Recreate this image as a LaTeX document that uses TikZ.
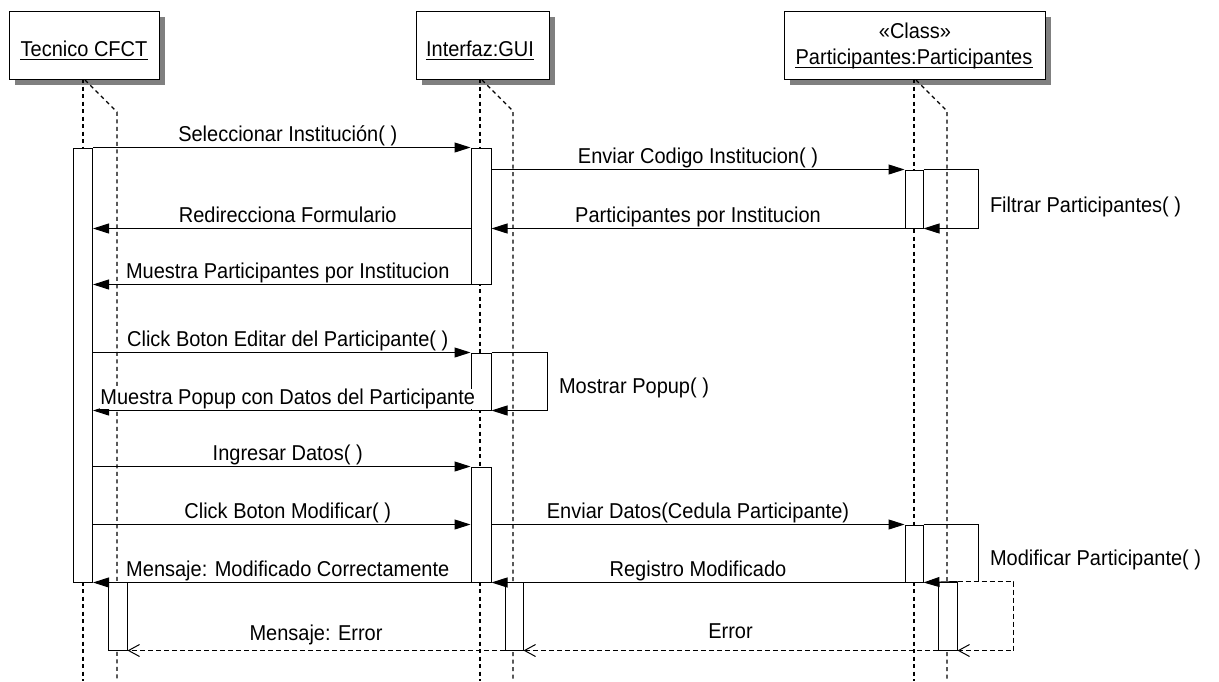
\documentclass[tikz,border=0pt]{standalone}
\usepackage{fontspec}
\setmainfont{Liberation Sans}[FakeStretch=0.93]
\usetikzlibrary{arrows.meta,shadows}
\begin{document}
\begin{tikzpicture}[x=1pt,y=-1pt,
  every node/.style={font=\fontsize{21.5}{25}\selectfont},
  objbox/.style={draw,line width=1pt,fill=white,rectangle,inner sep=0pt,
    general shadow={fill=black!50,shadow xshift=6pt,shadow yshift=-6pt}},
  objname/.style={anchor=base,inner sep=0pt},
  lifeline/.style={line width=1.2pt,dash pattern=on 4pt off 3.5pt},
  actbar/.style={draw,line width=1pt,fill=white,rectangle,inner sep=0pt},
  msg/.style={line width=1pt,-{Triangle[length=16pt,width=10pt]}},
  reply/.style={line width=1pt,dash pattern=on 5pt off 3pt,
    -{Straight Barb[length=11pt,width=12pt,line width=1pt]}},
  lbl/.style={fill=white,inner sep=0pt,anchor=base,yshift=6pt},
  lbll/.style={lbl,xshift=6pt},
  selflbl/.style={anchor=base west,inner sep=0pt},
]
\fill[white] (0,0) rectangle (1219,681);
\useasboundingbox (0,0) rectangle (1219,681);

% object boxes with drop shadow
\node[objbox,minimum width=150pt,minimum height=68pt] (tbox) at (84,45) {};
\node[objbox,minimum width=133pt,minimum height=68pt] (ibox) at (482.5,45) {};
\node[objbox,minimum width=261pt,minimum height=68pt] (pbox) at (914.5,45) {};

\node[objname] (tname) at (84,56) {Tecnico CFCT};
\node[objname] (iname) at (480,56) {Interfaz:GUI};
\node[objname] (pstereo) at (915,38) {«Class»};
\node[objname] (pname) at (914,64) {Participantes:Participantes};
\foreach \n in {tname,iname,pname}
  \draw[line width=1pt] ([yshift=-3.5pt]\n.base west) -- ([yshift=-3.5pt]\n.base east);

% lifelines
\draw[lifeline] (83,79) -- (83,681);
\draw[lifeline] (85,80) -- (117,112) -- (117,681);
\draw[lifeline] (480,79) -- (480,681);
\draw[lifeline] (482,80) -- (513,111) -- (513,681);
\draw[lifeline] (914,79) -- (914,681);
\draw[lifeline] (916,80) -- (947,111) -- (947,681);

% activation bars
\node[actbar,minimum width=19pt,minimum height=434pt] (tb1) at (83,365) {};
\node[actbar,minimum width=19pt,minimum height=68pt] (tb2) at (117.5,616) {};
\node[actbar,minimum width=20pt,minimum height=136pt] (ib1) at (481,216) {};
\node[actbar,minimum width=20pt,minimum height=57pt] (ib2) at (481,381.5) {};
\node[actbar,minimum width=20pt,minimum height=115pt] (ib3) at (481,524.5) {};
\node[actbar,minimum width=18pt,minimum height=68pt] (ib4) at (514,616) {};
\node[actbar,minimum width=18pt,minimum height=58pt] (pb1) at (914,199) {};
\node[actbar,minimum width=18pt,minimum height=57pt] (pb2) at (914,553.5) {};
\node[actbar,minimum width=19pt,minimum height=68pt] (pb3) at (947.5,616) {};

% messages
\draw[msg] (tb1.north east) -- node[lbll] {Seleccionar Institución( )} (ib1.north west);
\draw[msg] (ib1.east |- pb1.north) -- node[lbl] {Enviar Codigo Institucion( )} (pb1.north west);
\draw[msg] (pb1.north east) -- ++(55,0)
  |- node[pos=0.25,selflbl,xshift=11pt,yshift=-13pt] {Filtrar Participantes( )} (pb1.south east);
\draw[msg] (pb1.south west) -- node[lbl] {Participantes por Institucion} (ib1.east |- pb1.south);
\draw[msg] (ib1.west |- pb1.south) -- node[lbll] {Redirecciona Formulario} (tb1.east |- pb1.south);
\draw[msg] (ib1.south west) -- node[lbll] {Muestra Participantes por Institucion} (tb1.east |- ib1.south);

\draw[msg] (tb1.east |- ib2.north) -- node[lbll] {Click Boton Editar del Participante( )} (ib2.north west);
\draw[msg] (ib2.north east) -- ++(56,0)
  |- node[pos=0.25,selflbl,xshift=11pt,yshift=-11.5pt] {Mostrar Popup( )} (ib2.south east);
\draw[msg] (ib2.south west) -- node[lbll] {Muestra Popup con Datos del Participante} (tb1.east |- ib2.south);

\draw[msg] (tb1.east |- ib3.north) -- node[lbll] {Ingresar Datos( )} (ib3.north west);
\draw[msg] (tb1.east |- pb2.north) -- node[lbll] {Click Boton Modificar( )} (ib3.west |- pb2.north);
\draw[msg] (ib3.east |- pb2.north) -- node[lbl] {Enviar Datos(Cedula Participante)} (pb2.north west);
\draw[line width=1pt] (pb2.north east) -- ++(55,0)
  -- node[selflbl,xshift=11pt,yshift=-12.5pt] {Modificar Participante( )} ++(0,57);
\draw[msg] (pb3.north east) -- (pb2.south east);
\draw[msg] (pb2.south west) -- node[lbl] {Registro Modificado} (ib3.south east);
\draw[msg] (ib3.south west) -- node[lbll] {Mensaje: Modificado Correctamente} (tb1.south east);

% error replies
\draw[reply] (pb3.north east) -- ++(56,0) |- (pb3.south east);
\draw[reply] (pb3.south west) -- node[lbl,yshift=6pt] {Error} (ib4.south east);
\draw[reply] (ib4.south west) -- node[lbl,yshift=4pt] {Mensaje: Error} (tb2.south east);
\end{tikzpicture}
\end{document}
